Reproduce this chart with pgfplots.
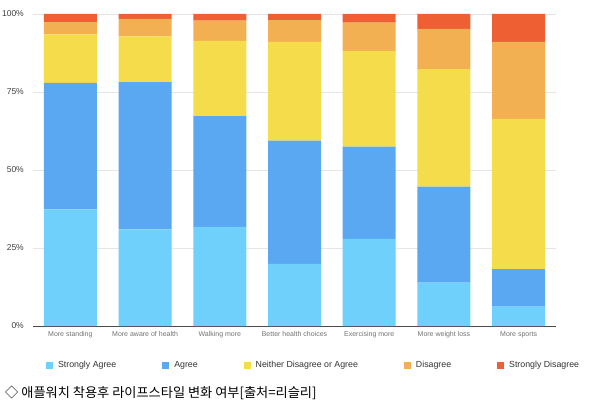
\documentclass[border=0pt]{standalone}
\usepackage{pgfplots}
\pgfplotsset{compat=1.18}
\usepackage{fontspec}
\setmainfont{Liberation Sans}
\newfontfamily\kr{Noto Sans CJK KR}
\definecolor{csa}{HTML}{6FD0FB}
\definecolor{ca}{HTML}{5AA8F2}
\definecolor{cn}{HTML}{F5DC4B}
\definecolor{cd}{HTML}{F2B052}
\definecolor{csd}{HTML}{EE5F33}
\begin{document}
\begin{tikzpicture}[x=1bp,y=1bp]
\fill[white] (0,0) rectangle (599,405);
\begin{axis}[
  at={(33bp,79bp)}, anchor=south west,
  scale only axis, width=523bp, height=312bp,
  ybar stacked, bar width=53bp,
  xmin=-0.5, xmax=6.5, ymin=0, ymax=100,
  xtick={0,1,2,3,4,5,6},
  xticklabels={More standing,More aware of health,Walking more,Better health choices,Exercising more,More weight loss,More sports},
  ytick={0,25,50,75,100},
  yticklabel={\pgfmathprintnumber[assume math mode=true]{\tick}\%},
  major tick length=0pt,
  axis x line*=bottom, axis y line*=left,
  y axis line style={draw=none},
  x axis line style={draw=black!70, line width=1bp},
  ymajorgrids, grid style={black!10, line width=0.6bp},
  xticklabel style={font=\fontsize{7bp}{8bp}\selectfont, text=black!55, inner sep=0pt, yshift=-5bp},
  yticklabel style={font=\fontsize{8.5bp}{10bp}\selectfont, text=black!75, inner sep=0pt, xshift=-9bp},
  legend columns=5,
  legend style={at={(0.025,-0.125)}, anchor=west, draw=none, fill=none, inner sep=0pt, outer sep=0pt,
    font=\fontsize{8.8bp}{10bp}\selectfont, text=black!80,
    /tikz/every odd column/.append style={column sep=3bp},
    /tikz/every even column/.append style={column sep=44bp}},
  legend image code/.code={\fill[#1] (0bp,-3.5bp) rectangle (7bp,3.5bp);},
  every axis plot/.append style={draw=none},
]
\addplot[fill=csa] coordinates {(0,37.4) (1,31.0) (2,31.8) (3,19.9) (4,27.9) (5,13.9) (6,6.2)};
\addplot[fill=ca] coordinates {(0,40.5) (1,47.2) (2,35.5) (3,39.5) (4,29.6) (5,30.8) (6,12.0)};
\addplot[fill=cn] coordinates {(0,15.6) (1,14.6) (2,24.1) (3,31.7) (4,30.7) (5,37.6) (6,48.2)};
\addplot[fill=cd] coordinates {(0,3.9) (1,5.6) (2,6.5) (3,6.9) (4,9.0) (5,12.9) (6,24.7)};
\addplot[fill=csd] coordinates {(0,2.6) (1,1.6) (2,2.1) (3,2.0) (4,2.8) (5,4.8) (6,8.9)};
\legend{Strongly Agree,Agree,Neither Disagree or Agree,Disagree,Strongly Disagree}
\end{axis}
\node[anchor=west, inner sep=0pt, font=\kr\fontsize{13.2bp}{15bp}\selectfont] at (5,12.5) {◇ 애플워치 착용후 라이프스타일 변화 여부[출처=리슬리]};
\end{tikzpicture}
\end{document}
